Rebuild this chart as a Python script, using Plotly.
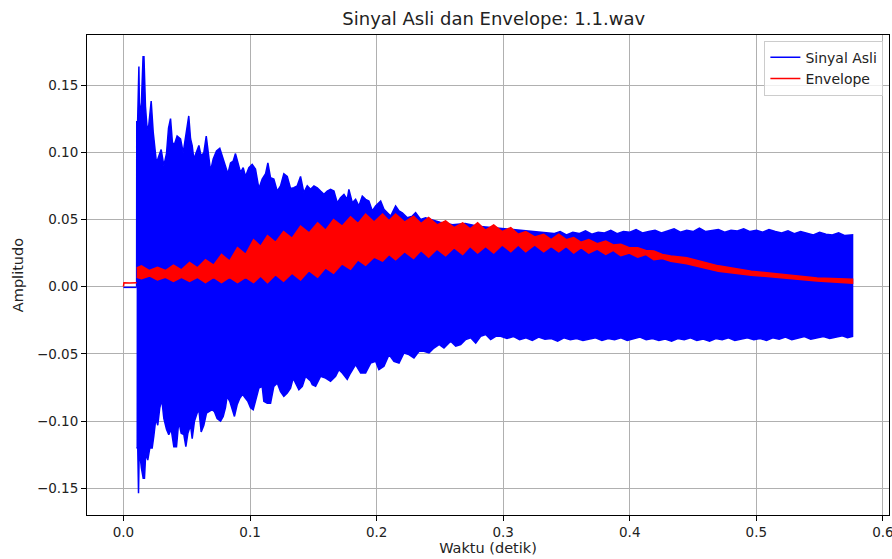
import plotly.graph_objects as go

# ---------------- data ----------------
# Pre-onset part of the signal (before the note starts)
pre_t = [0.0, 0.005, 0.0105]
pre_sig = [-0.0005, -0.0004, -0.0005]
pre_env_t = [0.0, 0.0004, 0.005, 0.0105]
pre_env = [0.0, 0.003, 0.0028, 0.003]

# Upper (positive peak) edge of the original signal
sig_up_t = [0.0104, 0.0105, 0.0112, 0.0117, 0.0122, 0.0127, 0.0142, 0.0155, 0.0162, 0.0174,
            0.0187, 0.0200, 0.0219, 0.0235, 0.0248, 0.0261, 0.0279, 0.0298, 0.0319, 0.0340,
            0.0356, 0.0372, 0.0387, 0.0403, 0.0424, 0.0451, 0.0472, 0.0490, 0.0516, 0.0530,
            0.0543, 0.0556, 0.0577, 0.0596, 0.0614, 0.0635, 0.0654, 0.0669, 0.0688, 0.0709,
            0.0735, 0.0761, 0.0780, 0.0806, 0.0825, 0.0846, 0.0867, 0.0885, 0.0904, 0.0925,
            0.0946, 0.0964, 0.0991, 0.1017, 0.1043, 0.1070, 0.1096, 0.1123, 0.1141, 0.1162,
            0.1188, 0.1215, 0.1241, 0.1267, 0.1294, 0.1320, 0.1346, 0.1373, 0.1399, 0.1425,
            0.1452, 0.1478, 0.1505, 0.1531, 0.1557, 0.1584, 0.1610, 0.1636, 0.1663, 0.1689,
            0.1715, 0.1742, 0.1768, 0.1781, 0.1808, 0.1834, 0.1860, 0.1887, 0.1913, 0.1939,
            0.1966, 0.1992, 0.2032, 0.2058, 0.2085, 0.2111, 0.2150, 0.2177, 0.2203, 0.2243,
            0.2282, 0.2308, 0.2348, 0.2387, 0.2427, 0.250, 0.260, 0.270, 0.280, 0.290,
            0.300, 0.310, 0.320, 0.330, 0.340, 0.345, 0.350, 0.355, 0.360, 0.365,
            0.370, 0.375, 0.380, 0.385, 0.390, 0.395, 0.400, 0.405, 0.410, 0.415,
            0.420, 0.425, 0.430, 0.435, 0.440, 0.445, 0.450, 0.455, 0.460, 0.465,
            0.470, 0.475, 0.480, 0.485, 0.490, 0.495, 0.500, 0.505, 0.510, 0.515,
            0.520, 0.525, 0.530, 0.535, 0.540, 0.545, 0.550, 0.555, 0.560, 0.565,
            0.570, 0.576]
sig_up = [0.000, 0.1226, 0.1226, 0.1638, 0.1638, 0.127, 0.137, 0.171, 0.171, 0.134,
          0.117, 0.120, 0.138, 0.115, 0.105, 0.092, 0.097, 0.102, 0.090, 0.099,
          0.118, 0.125, 0.107, 0.106, 0.112, 0.110, 0.0997, 0.110, 0.127, 0.110,
          0.105, 0.095, 0.0997, 0.105, 0.097, 0.0997, 0.112, 0.102, 0.086, 0.095,
          0.101, 0.103, 0.097, 0.090, 0.084, 0.092, 0.0935, 0.099, 0.092, 0.085,
          0.0885, 0.082, 0.0885, 0.091, 0.0875, 0.073, 0.080, 0.084, 0.092, 0.081,
          0.080, 0.071, 0.075, 0.084, 0.082, 0.073, 0.0736, 0.075, 0.082, 0.070,
          0.075, 0.0724, 0.0749, 0.0736, 0.0711, 0.0687, 0.0711, 0.0724, 0.0711, 0.0624,
          0.0662, 0.0687, 0.0650, 0.0724, 0.0624, 0.0650, 0.0600, 0.0674, 0.0650, 0.0637,
          0.0563, 0.0600, 0.0637, 0.0575, 0.0550, 0.0525, 0.0600, 0.0563, 0.0550, 0.0513,
          0.0525, 0.0550, 0.0501, 0.0513, 0.0501, 0.048, 0.046, 0.047, 0.045, 0.044,
          0.043, 0.042, 0.041, 0.040, 0.0395, 0.0410, 0.0385, 0.0405, 0.0395, 0.0415,
          0.0390, 0.0405, 0.0400, 0.0420, 0.0395, 0.0410, 0.0405, 0.0425, 0.0400, 0.0410,
          0.0420, 0.0400, 0.0415, 0.0430, 0.0405, 0.0420, 0.0410, 0.0435, 0.0410, 0.0420,
          0.0425, 0.0405, 0.0420, 0.0415, 0.0430, 0.0410, 0.0420, 0.0405, 0.0425, 0.0410,
          0.0400, 0.0415, 0.0395, 0.0410, 0.0400, 0.0385, 0.0405, 0.0390, 0.0385, 0.0400,
          0.0380, 0.0385]

# Lower (negative peak) edge of the original signal
sig_lo_t = [0.0103, 0.0113, 0.0119, 0.0124, 0.0129, 0.0142, 0.0156, 0.0166, 0.0176, 0.0192,
            0.0208, 0.0227, 0.0240, 0.0256, 0.0271, 0.0287, 0.0303, 0.0319, 0.0340, 0.0358,
            0.0377, 0.0398, 0.0419, 0.0437, 0.0456, 0.0477, 0.0493, 0.0509, 0.0530, 0.0543,
            0.0561, 0.0582, 0.0596, 0.0614, 0.0635, 0.0656, 0.0677, 0.0701, 0.0719, 0.0740,
            0.0767, 0.0788, 0.0806, 0.0819, 0.0840, 0.0859, 0.0877, 0.0898, 0.0919, 0.0941,
            0.0964, 0.0983, 0.1004, 0.1025, 0.1043, 0.1070, 0.1096, 0.1109, 0.1136, 0.1162,
            0.1188, 0.1215, 0.1241, 0.1267, 0.1294, 0.1320, 0.1341, 0.1360, 0.1386, 0.1413,
            0.1439, 0.1465, 0.1478, 0.1492, 0.1518, 0.1557, 0.1597, 0.1636, 0.1676, 0.1702,
            0.1729, 0.1768, 0.1794, 0.1834, 0.1874, 0.1913, 0.1953, 0.1992, 0.2018, 0.2058,
            0.2098, 0.2137, 0.2177, 0.2216, 0.2255, 0.2295, 0.2335, 0.2374, 0.2414, 0.2453,
            0.2493, 0.2532, 0.2585, 0.2625, 0.2664, 0.2704, 0.2743, 0.2783, 0.2822, 0.2862,
            0.2901, 0.2941, 0.2980, 0.303, 0.308, 0.313, 0.318, 0.323, 0.328, 0.333,
            0.338, 0.343, 0.348, 0.353, 0.358, 0.363, 0.368, 0.373, 0.378, 0.383,
            0.388, 0.393, 0.398, 0.403, 0.408, 0.413, 0.418, 0.423, 0.428, 0.433,
            0.438, 0.443, 0.448, 0.453, 0.458, 0.463, 0.468, 0.473, 0.478, 0.483,
            0.488, 0.493, 0.498, 0.503, 0.508, 0.513, 0.518, 0.523, 0.528, 0.533,
            0.538, 0.543, 0.548, 0.553, 0.558, 0.563, 0.568, 0.572, 0.576]
sig_lo = [-0.120, -0.120, -0.1536, -0.125, -0.124, -0.135, -0.1425, -0.1425, -0.124, -0.129,
          -0.120, -0.120, -0.111, -0.098, -0.103, -0.090, -0.084, -0.098, -0.106, -0.110,
          -0.106, -0.119, -0.119, -0.100, -0.109, -0.110, -0.119, -0.109, -0.103, -0.113,
          -0.100, -0.094, -0.0915, -0.108, -0.103, -0.094, -0.0928, -0.0915, -0.093, -0.098,
          -0.100, -0.0965, -0.090, -0.0816, -0.0853, -0.090, -0.0965, -0.0878, -0.083, -0.080,
          -0.083, -0.0853, -0.090, -0.0915, -0.084, -0.0754, -0.0741, -0.0853, -0.0866, -0.0866,
          -0.0741, -0.0717, -0.078, -0.0816, -0.079, -0.0754, -0.068, -0.0717, -0.0766, -0.0741,
          -0.0667, -0.069, -0.070, -0.0729, -0.0741, -0.0667, -0.068, -0.0704, -0.0667, -0.0617,
          -0.0642, -0.069, -0.0642, -0.058, -0.0642, -0.0642, -0.0568, -0.0555, -0.0617, -0.0592,
          -0.0505, -0.0555, -0.0568, -0.0493, -0.0505, -0.053, -0.048, -0.048, -0.0493, -0.0456,
          -0.043, -0.0456, -0.0406, -0.0443, -0.043, -0.0393, -0.038, -0.042, -0.0369, -0.0356,
          -0.0393, -0.0369, -0.0369, -0.0385, -0.0370, -0.0395, -0.0380, -0.0400, -0.0375, -0.0390,
          -0.0385, -0.0405, -0.0380, -0.0395, -0.0385, -0.0400, -0.0390, -0.0380, -0.0400, -0.0385,
          -0.0395, -0.0380, -0.0400, -0.0390, -0.0375, -0.0395, -0.0385, -0.0400, -0.0390, -0.0405,
          -0.0385, -0.0395, -0.0380, -0.0400, -0.0390, -0.0405, -0.0385, -0.0395, -0.0380, -0.0400,
          -0.0390, -0.0380, -0.0395, -0.0385, -0.0400, -0.0380, -0.0390, -0.0375, -0.0395, -0.0385,
          -0.0370, -0.0390, -0.0380, -0.0370, -0.0385, -0.0375, -0.0365, -0.0380, -0.0370]

# Envelope band: times, upper and lower edge of the oscillating envelope
env_t = [0.0105, 0.0142, 0.0205, 0.0269, 0.0332, 0.0395, 0.0458, 0.0522, 0.0585, 0.0648,
         0.0712, 0.0775, 0.0838, 0.0901, 0.0965, 0.1028, 0.1083, 0.1138, 0.1201, 0.1265,
         0.1332, 0.1399, 0.1466, 0.1534, 0.1597, 0.1660, 0.1727, 0.1794, 0.1853, 0.1913,
         0.1980, 0.2047, 0.2098, 0.2150, 0.2221, 0.2292, 0.2351, 0.2411, 0.2478, 0.2545,
         0.2612, 0.2680, 0.2739, 0.2798, 0.2861, 0.2925, 0.2992, 0.3060, 0.3119, 0.3178,
         0.3249, 0.3320, 0.3379, 0.3439, 0.3498, 0.3557, 0.3616, 0.3676, 0.3743, 0.3810,
         0.3870, 0.3929, 0.3996, 0.4063, 0.4126, 0.4190, 0.4257, 0.4324, 0.4450, 0.4700,
         0.4960, 0.5220, 0.5480, 0.5760]
env_hi = [0.014, 0.0155, 0.012, 0.0145, 0.012, 0.016, 0.0125, 0.018, 0.014, 0.020,
          0.016, 0.024, 0.019, 0.029, 0.024, 0.035, 0.030, 0.038, 0.033, 0.041,
          0.036, 0.045, 0.040, 0.0475, 0.042, 0.050, 0.045, 0.052, 0.047, 0.054,
          0.048, 0.054, 0.049, 0.054, 0.048, 0.0525, 0.047, 0.0515, 0.046, 0.049,
          0.044, 0.0475, 0.043, 0.0475, 0.042, 0.046, 0.041, 0.044, 0.039, 0.041,
          0.037, 0.039, 0.035, 0.039, 0.035, 0.0365, 0.033, 0.035, 0.032, 0.034,
          0.031, 0.0315, 0.029, 0.029, 0.027, 0.0265, 0.024, 0.0228, 0.0215, 0.0155,
          0.0115, 0.0087, 0.0064, 0.0056]
env_lo = [0.007, 0.006, 0.008, 0.005, 0.007, 0.004, 0.007, 0.004, 0.007, 0.003,
          0.007, 0.003, 0.007, 0.003, 0.007, 0.003, 0.008, 0.003, 0.009, 0.004,
          0.010, 0.005, 0.012, 0.007, 0.014, 0.010, 0.017, 0.013, 0.020, 0.016,
          0.022, 0.019, 0.024, 0.020, 0.026, 0.021, 0.027, 0.022, 0.028, 0.023,
          0.029, 0.024, 0.030, 0.025, 0.030, 0.025, 0.031, 0.026, 0.031, 0.026,
          0.031, 0.026, 0.030, 0.026, 0.030, 0.025, 0.029, 0.025, 0.028, 0.024,
          0.027, 0.023, 0.025, 0.022, 0.024, 0.020, 0.021, 0.019, 0.017, 0.0115,
          0.0086, 0.0063, 0.0042, 0.0026]

x_ticks = [0.0, 0.1, 0.2, 0.3, 0.4, 0.5, 0.6]
y_ticks = [-0.15, -0.10, -0.05, 0.00, 0.05, 0.10, 0.15]

BLUE = "#0000ff"
RED = "#ff0000"
FONT = "DejaVu Sans"

fig = go.Figure()

# original signal: band between its peak edges
fig.add_trace(go.Scatter(
    x=sig_up_t + sig_lo_t[::-1], y=sig_up + sig_lo[::-1],
    mode="lines", fill="toself", fillcolor=BLUE,
    line=dict(color=BLUE, width=1.5), showlegend=False, hoverinfo="skip"))
fig.add_trace(go.Scatter(x=pre_t, y=pre_sig, mode="lines",
                         line=dict(color=BLUE, width=1.5), showlegend=False))

# envelope band
fig.add_trace(go.Scatter(
    x=env_t + env_t[::-1], y=env_hi + env_lo[::-1],
    mode="lines", fill="toself", fillcolor=RED,
    line=dict(color=RED, width=1.5), showlegend=False, hoverinfo="skip"))
fig.add_trace(go.Scatter(x=pre_env_t, y=pre_env, mode="lines",
                         line=dict(color=RED, width=1.5), showlegend=False))

# legend entries
fig.add_trace(go.Scatter(x=[None], y=[None], mode="lines", name="Sinyal Asli",
                         line=dict(color=BLUE, width=1.5)))
fig.add_trace(go.Scatter(x=[None], y=[None], mode="lines", name="Envelope",
                         line=dict(color=RED, width=1.5)))

axis_common = dict(
    showline=True, linecolor="black", linewidth=1, mirror=True,
    showgrid=True, gridcolor="#b0b0b0", gridwidth=0.8,
    ticks="outside", ticklen=5, tickcolor="black", tickwidth=1,
    zeroline=False, automargin=False, ticklabeloverflow="allow",
    tickfont=dict(family=FONT, size=13.5, color="#222222"),
)

fig.update_layout(
    width=892, height=559,
    margin=dict(l=87, r=3, t=35, b=44, autoexpand=False),
    paper_bgcolor="white", plot_bgcolor="white",
    font=dict(family=FONT, size=13.5, color="#222222"),
    title=dict(text="Sinyal Asli dan Envelope: 1.1.wav", x=0.5535, xanchor="center",
               y=0.967, yanchor="middle", font=dict(family=FONT, size=18, color="#222222")),
    xaxis=dict(range=[-0.0288, 0.6048], tickvals=x_ticks, tickformat=".1f",
               title=dict(text="Waktu (detik)", standoff=3,
                          font=dict(family=FONT, size=14.5, color="#222222")),
               **axis_common),
    yaxis=dict(range=[-0.1698, 0.1872], tickvals=y_ticks, tickformat=".2f",
               title=dict(text="Amplitudo", standoff=9,
                          font=dict(family=FONT, size=14.5, color="#222222")),
               **axis_common),
    legend=dict(x=0.993, y=0.988, xanchor="right", yanchor="top",
                bgcolor="rgba(255,255,255,0.8)", bordercolor="#cccccc", borderwidth=1,
                font=dict(family=FONT, size=14, color="#222222")),
    showlegend=True,
)

fig.write_html(
    "out.html",
    config={"displayModeBar": False},
    post_script="document.body.style.margin='0';document.body.style.padding='0';"
                "document.body.style.overflow='hidden';",
)
